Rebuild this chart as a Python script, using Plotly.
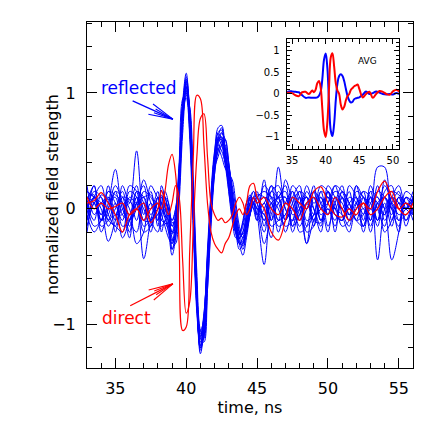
import math
import plotly.graph_objects as go

# time axis (ns)
time_ns = [33.0, 33.5, 34.0, 34.5, 35.0, 35.5, 36.0, 36.5, 37.0, 37.5, 38.0,
           38.25, 38.5, 38.75, 39.0, 39.25, 39.5, 39.75, 40.0, 40.25, 40.5, 40.75,
           41.0, 41.25, 41.5, 41.75, 42.0, 42.25, 42.5, 42.75, 43.0, 43.25, 43.5,
           43.75, 44.0, 44.25, 44.5, 44.75, 45.0,
           45.5, 46.0, 46.5, 47.0, 47.5, 48.0, 48.5, 49.0, 49.5, 50.0, 50.5,
           51.0, 51.5, 52.0, 52.5, 53.0, 53.5, 54.0, 54.5, 55.0, 55.5, 56.0]

# reflected signals (normalized field strength)
reflected = [
    [0.05, -0.1, 0.12, 0.08, 0.1, -0.15, -0.1, 0.1, -0.1, 0.05, -0.05,
     0.05, -0.05, -0.15, -0.22, -0.1, 0.3, 0.92, 1.17, 0.8, -0.05, -0.85, -1.25, -1.05, -0.5, 0.05, 0.48, 0.7, 0.72, 0.5, 0.2, -0.05, -0.22, -0.3, -0.25, -0.1, 0.05, 0.1, 0.05,
     -0.1, 0.15, 0.1, 0.1, -0.15, 0.05, 0.1, -0.1, -0.12, 0.15, -0.05, -0.1, 0.1, 0.05, -0.15, 0.1, 0.0, -0.05, 0.15, 0.12, 0.05, 0.0],
    [-0.1, 0.1, -0.05, 0.15, 0.12, 0.05, -0.2, 0.1, 0.0, -0.15, 0.1,
     -0.1, -0.12, -0.18, -0.3, -0.2, 0.2, 0.8, 1.08, 0.82, 0.05, -0.75, -1.2, -1.1, -0.6, -0.05, 0.38, 0.6, 0.66, 0.52, 0.25, 0.0, -0.18, -0.3, -0.28, -0.12, 0.0, 0.1, 0.12,
     0.1, -0.1, 0.36, 0.0, -0.1, 0.1, -0.2, -0.15, 0.1, -0.05, 0.2, 0.15, 0.0, 0.1, -0.05, 0.15, -0.1, 0.05, -0.15, 0.1, 0.0, 0.05],
    [0.15, 0.1, 0.0, -0.28, -0.1, 0.1, 0.08, -0.1, 0.15, 0.1, 0.0,
     0.12, 0.02, -0.1, -0.35, -0.25, 0.15, 0.75, 1.05, 0.86, 0.15, -0.68, -1.15, -1.1, -0.6, 0.0, 0.42, 0.6, 0.55, 0.38, 0.15, -0.05, -0.2, -0.2, -0.12, 0.05, 0.12, 0.05, -0.05,
     -0.48, 0.0, 0.1, -0.1, 0.15, 0.0, -0.3, 0.1, -0.05, 0.0, -0.1, 0.15, 0.05, -0.1, 0.1, -0.2, 0.05, 0.1, 0.0, -0.1, 0.1, -0.05],
    [-0.05, 0.2, -0.1, 0.05, 0.34, 0.0, -0.1, 0.05, -0.43, -0.1, 0.1,
     -0.05, 0.05, 0.0, -0.15, -0.05, 0.35, 0.9, 1.02, 0.7, -0.1, -0.85, -1.18, -0.95, -0.4, 0.1, 0.45, 0.55, 0.5, 0.4, 0.3, 0.1, -0.1, -0.25, -0.35, -0.2, 0.0, 0.1, 0.0,
     0.05, 0.2, -0.1, -0.05, 0.1, -0.2, -0.15, 0.15, -0.1, 0.1, 0.0, -0.05, -0.15, 0.2, 0.0, 0.1, -0.44, 0.0, 0.1, 0.05, -0.1, 0.1],
    [0.1, 0.12, -0.15, -0.1, 0.05, -0.25, -0.1, 0.05, 0.1, 0.12, -0.1,
     0.15, 0.1, -0.05, -0.2, -0.15, 0.25, 0.85, 1.1, 0.75, -0.05, -0.8, -1.1, -0.9, -0.45, 0.05, 0.35, 0.45, 0.55, 0.6, 0.4, 0.1, -0.15, -0.25, -0.2, -0.05, 0.1, 0.15, 0.05,
     -0.2, 0.05, 0.1, 0.2, -0.05, 0.0, 0.1, -0.15, 0.15, -0.05, 0.1, 0.05, -0.1, 0.0, 0.1, 0.0, 0.36, 0.36, -0.1, 0.05, 0.0, 0.1],
    [-0.15, 0.05, 0.1, -0.1, 0.0, 0.15, -0.1, -0.2, 0.05, 0.0, 0.15,
     -0.15, -0.1, -0.05, -0.1, 0.0, 0.4, 0.95, 1.0, 0.6, -0.2, -0.9, -1.2, -0.95, -0.35, 0.15, 0.5, 0.65, 0.6, 0.42, 0.35, 0.2, 0.0, -0.2, -0.3, -0.15, -0.05, 0.05, 0.1,
     0.15, 0.1, 0.0, -0.15, -0.1, 0.15, 0.1, 0.0, -0.15, 0.2, 0.1, 0.0, 0.15, -0.1, -0.05, 0.15, 0.1, 0.0, -0.44, -0.2, 0.15, 0.1],
    [0.0, 0.15, 0.1, -0.15, -0.05, -0.05, 0.2, 0.15, -0.15, -0.1, -0.05,
     0.05, 0.15, 0.05, -0.25, -0.3, 0.05, 0.65, 0.98, 0.88, 0.25, -0.55, -1.05, -1.12, -0.7, -0.15, 0.3, 0.55, 0.65, 0.6, 0.4, 0.15, -0.1, -0.28, -0.32, -0.2, -0.05, 0.05, 0.0,
     -0.05, -0.25, 0.15, 0.05, 0.0, -0.1, 0.15, 0.05, 0.1, -0.15, 0.05, 0.2, -0.05, 0.05, -0.2, 0.05, 0.1, -0.1, 0.05, 0.15, -0.1, 0.0],
    [0.2, -0.05, 0.05, 0.1, -0.2, 0.05, -0.05, 0.15, 0.1, -0.1, 0.0,
     0.0, -0.08, -0.2, -0.4, -0.25, 0.2, 0.8, 1.12, 0.82, 0.0, -0.8, -1.22, -1.05, -0.5, 0.05, 0.4, 0.58, 0.6, 0.45, 0.2, 0.0, -0.15, -0.22, -0.15, 0.0, 0.1, 0.05, -0.1,
     0.2, 0.1, -0.15, -0.1, 0.2, 0.1, -0.3, -0.1, 0.0, 0.05, 0.15, 0.1, -0.1, -0.05, 0.0, -0.1, 0.15, 0.1, -0.05, 0.1, 0.05, -0.1],
    [-0.05, -0.2, -0.1, 0.0, 0.15, 0.1, 0.0, -0.3, -0.2, 0.2, 0.1,
     0.1, 0.05, 0.0, -0.1, 0.0, 0.35, 0.88, 1.05, 0.7, -0.1, -0.82, -1.15, -1.0, -0.5, 0.0, 0.35, 0.5, 0.55, 0.52, 0.35, 0.12, -0.1, -0.3, -0.4, -0.25, -0.05, 0.1, 0.15,
     -0.15, 0.1, 0.05, -0.2, 0.0, 0.1, 0.0, 0.2, -0.1, 0.0, -0.15, 0.1, -0.05, 0.15, 0.1, -0.05, 0.0, 0.2, 0.05, -0.2, 0.1, 0.05],
    [0.1, 0.05, -0.1, 0.2, -0.05, 0.1, -0.15, 0.05, 0.2, -0.05, 0.05,
     -0.05, -0.15, -0.25, -0.3, -0.1, 0.3, 0.85, 1.06, 0.78, 0.05, -0.72, -1.1, -1.0, -0.55, -0.05, 0.35, 0.62, 0.7, 0.5, 0.15, -0.1, -0.25, -0.22, -0.1, 0.05, 0.1, 0.0, -0.1,
     0.0, 0.15, 0.2, 0.0, -0.1, -0.05, 0.05, -0.1, 0.05, 0.1, -0.05, -0.1, 0.2, 0.1, -0.15, 0.0, -0.1, 0.1, 0.0, 0.1, -0.15, 0.1],
    [-0.1, 0.1, 0.2, -0.05, -0.15, 0.2, 0.05, 0.5, -0.05, 0.15, -0.15,
     0.2, 0.1, 0.0, -0.15, -0.1, 0.25, 0.82, 0.96, 0.65, -0.05, -0.75, -1.08, -0.98, -0.5, 0.0, 0.4, 0.52, 0.45, 0.35, 0.3, 0.25, 0.05, -0.15, -0.25, -0.2, -0.05, 0.05, 0.0,
     -0.3, -0.05, 0.1, 0.15, -0.15, -0.05, 0.2, 0.0, -0.2, 0.15, 0.0, -0.1, 0.05, 0.1, -0.1, 0.2, 0.0, -0.15, 0.1, 0.0, 0.05, 0.0],
    [0.05, -0.15, -0.1, 0.15, 0.05, -0.1, 0.15, 0.1, -0.2, -0.15, 0.05,
     -0.1, 0.0, -0.05, -0.2, -0.2, 0.15, 0.75, 1.02, 0.85, 0.15, -0.65, -1.12, -1.15, -0.7, -0.1, 0.35, 0.58, 0.62, 0.5, 0.3, 0.05, -0.15, -0.3, -0.3, -0.15, 0.0, 0.1, 0.05,
     0.1, 0.05, -0.2, 0.05, 0.15, -0.1, 0.05, 0.15, 0.05, -0.2, 0.1, 0.0, -0.05, 0.0, 0.15, -0.1, 0.2, 0.0, 0.05, -0.05, 0.0, 0.15],
    [0.0, 0.1, -0.2, 0.0, 0.2, 0.05, -0.25, 0.15, 0.05, -0.2, 0.1,
     0.05, -0.05, -0.1, -0.28, -0.15, 0.25, 0.85, 1.1, 0.8, 0.0, -0.8, -1.18, -1.02, -0.45, 0.1, 0.45, 0.62, 0.58, 0.4, 0.2, 0.0, -0.2, -0.35, -0.3, -0.1, 0.05, 0.15, 0.1,
     -0.05, 0.2, 0.1, -0.1, 0.05, 0.15, -0.15, -0.05, 0.2, 0.15, 0.05, -0.15, -0.1, 0.2, 0.1, 0.05, -0.15, 0.15, 0.2, -0.1, -0.05, 0.0],
    [0.15, 0.1, 0.05, -0.1, -0.15, -0.2, 0.1, 0.05, 0.1, -0.1, -0.2,
     0.0, 0.1, 0.05, -0.12, -0.1, 0.3, 0.9, 1.04, 0.72, -0.05, -0.78, -1.12, -0.92, -0.42, 0.08, 0.42, 0.6, 0.62, 0.45, 0.25, 0.05, -0.1, -0.2, -0.22, -0.1, 0.05, 0.0, -0.05,
     0.25, -0.1, 0.05, 0.1, -0.2, 0.0, 0.1, -0.05, 0.0, 0.15, -0.2, 0.1, 0.0, -0.05, 0.05, -0.15, 0.05, -0.05, 0.1, 0.2, 0.0, -0.05],
    [-0.2, 0.05, -0.05, 0.1, -0.1, 0.0, 0.05, 0.2, -0.1, -0.1, 0.05,
     -0.2, -0.1, -0.15, -0.35, -0.2, 0.2, 0.78, 1.0, 0.75, 0.05, -0.7, -1.05, -0.95, -0.5, -0.05, 0.3, 0.5, 0.58, 0.55, 0.38, 0.15, -0.05, -0.2, -0.25, -0.15, -0.05, 0.05, 0.1,
     -0.1, 0.05, -0.1, 0.25, 0.05, -0.15, 0.0, 0.1, -0.1, 0.05, 0.2, -0.05, -0.2, 0.05, 0.15, 0.1, -0.1, 0.25, 0.0, -0.15, 0.1, 0.05],
    [0.05, 0.2, -0.1, -0.05, 0.15, -0.05, -0.1, 0.0, 0.25, 0.05, -0.1,
     0.1, 0.0, -0.12, -0.2, -0.05, 0.3, 0.88, 1.14, 0.85, 0.05, -0.78, -1.2, -1.08, -0.55, 0.0, 0.42, 0.66, 0.68, 0.48, 0.22, 0.0, -0.18, -0.25, -0.2, -0.05, 0.08, 0.05, -0.05,
     0.05, -0.15, -0.1, -0.05, 0.1, 0.2, -0.1, -0.05, 0.15, 0.1, 0.0, 0.15, 0.05, -0.1, -0.15, 0.1, 0.05, -0.2, -0.1, 0.05, 0.0, 0.1],
]

# direct signals
direct = [
    [0.05, 0.07, 0.14, 0.05, -0.05, -0.2, -0.05, 0.0, -0.1, 0.0, 0.05,
     0.0, 0.15, 0.38, 0.47, 0.3, -0.3, -1.05, -1.02, -0.35, 0.45, 0.98, 0.95, 0.55, 0.05, -0.2, -0.3, -0.35, -0.38, -0.3, -0.25, -0.15, -0.05, 0.0, -0.05, 0.05, 0.2, 0.22, 0.1,
     0.0, -0.2, -0.27, -0.1, 0.1, 0.05, 0.0, 0.15, 0.19, 0.05, -0.05, -0.07, 0.0, -0.05, 0.05, 0.0, 0.15, 0.24, 0.1, 0.0, 0.05, 0.0],
    [0.1, 0.0, 0.05, 0.0, 0.02, 0.05, -0.05, 0.0, 0.05, -0.12, 0.0,
     0.16, 0.05, -0.05, 0.05, 0.2, 0.1, -0.45, -0.9, -0.8, -0.15, 0.45, 0.78, 0.82, 0.45, 0.05, -0.05, -0.1, -0.08, -0.12, -0.1, -0.05, 0.05, 0.1, 0.05, -0.05, 0.0, 0.1, 0.05,
     0.1, 0.0, -0.05, 0.05, 0.0, -0.1, 0.05, 0.1, 0.0, -0.05, 0.1, 0.0, -0.1, 0.0, 0.05, -0.05, 0.0, 0.1, 0.15, 0.0, -0.05, 0.05],
]

# averages shown in the inset
avg_reflected = [0.03, 0.03, 0.03, 0.06, 0.06, 0.05, 0.04, -0.03, -0.09, -0.08, -0.09,
                 -0.09, -0.09, -0.08, -0.04, 0.05, 0.35, 0.8, 0.94, 0.6, -0.2, -0.85, -0.98, -0.7, -0.15, 0.25, 0.42, 0.46, 0.42, 0.3, 0.12, -0.05, -0.15, -0.2, -0.18, -0.12, -0.1, -0.09, -0.08,
                 -0.02, 0.06, 0.0, 0.02, 0.06, 0.03, 0.0, -0.01, 0.0, -0.01, 0.02, 0.0, 0.0, 0.0, 0.0, 0.0, 0.0, 0.0, 0.0, 0.0, 0.0, 0.0]
avg_direct = [0.03, 0.03, 0.03, 0.03, 0.02, -0.03, -0.05, 0.04, 0.05, 0.0, 0.08,
              0.04, 0.1, 0.25, 0.3, 0.15, -0.35, -0.85, -1.0, -0.65, 0.15, 0.85, 0.95, 0.65, 0.25, 0.08, 0.0, -0.25, -0.36, -0.3, -0.15, -0.05, 0.0, 0.1, 0.14, 0.18, 0.2, 0.22, 0.12,
              -0.08, 0.0, 0.05, -0.09, 0.0, 0.07, 0.05, 0.0, -0.02, 0.06, 0.1, 0.05, 0.0, 0.0, 0.0, 0.0, 0.0, 0.0, 0.0, 0.0, 0.0, 0.0]

for s in reflected + direct + [avg_reflected, avg_direct]:
    assert len(s) == len(time_ns), len(s)

BLUE = '#0000ff'
RED = '#ff0000'
FONT = 'DejaVu Sans'

X_RANGE = [33, 56]
Y_RANGE = [-1.373, 1.612]

fig = go.Figure()
for tr in reflected:
    fig.add_trace(go.Scatter(x=time_ns, y=tr, mode='lines', hoverinfo='skip', showlegend=False,
                             line=dict(color=BLUE, width=1, shape='spline', smoothing=1)))
for tr in direct:
    fig.add_trace(go.Scatter(x=time_ns, y=tr, mode='lines', hoverinfo='skip', showlegend=False,
                             line=dict(color=RED, width=1.2, shape='spline', smoothing=1)))
fig.add_trace(go.Scatter(x=time_ns, y=avg_reflected, xaxis='x2', yaxis='y2', mode='lines', hoverinfo='skip',
                         showlegend=False, line=dict(color=BLUE, width=2, shape='spline', smoothing=1)))
fig.add_trace(go.Scatter(x=time_ns, y=avg_direct, xaxis='x2', yaxis='y2', mode='lines', hoverinfo='skip',
                         showlegend=False, line=dict(color=RED, width=2, shape='spline', smoothing=1)))

# the page body has an 8 px default margin, so the figure is 428 px and shifted
W, H = 428, 428
ML, MR, MT, MB = 79, 23, 14, 68
SX = (W - ML - MR) / (X_RANGE[1] - X_RANGE[0])
SY = (H - MT - MB) / (Y_RANGE[1] - Y_RANGE[0])


def arrow_shapes(tail, head, color):
    dxp = (head[0] - tail[0]) * SX
    dyp = (head[1] - tail[1]) * SY
    L = math.hypot(dxp, dyp)
    ux, uy = dxp / L, dyp / L
    out = [dict(type='line', xref='x', yref='y', x0=tail[0], y0=tail[1], x1=head[0], y1=head[1],
                line=dict(color=color, width=1.3))]
    for ang, ln in ((13, 25), (-13, 25), (6, 20), (-6, 20)):
        a = math.radians(ang)
        bx = -(ux * math.cos(a) - uy * math.sin(a)) * ln
        by = -(ux * math.sin(a) + uy * math.cos(a)) * ln
        out.append(dict(type='line', xref='x', yref='y', x0=head[0], y0=head[1],
                        x1=head[0] + bx / SX, y1=head[1] + by / SY,
                        line=dict(color=color, width=1.1)))
    return out


shapes = arrow_shapes((36.22, 0.931), (39.06, 0.774), BLUE) + arrow_shapes((36.05, -0.836), (39.06, -0.647), RED)

axis_common = dict(ticks='inside', tickcolor='black', tickwidth=1, showline=True, linecolor='black',
                   linewidth=1, mirror='allticks', showgrid=False, zeroline=False, automargin=False)

fig.update_layout(
    width=W, height=H, margin=dict(l=ML, r=MR, t=MT, b=MB, autoexpand=False),
    paper_bgcolor='white', plot_bgcolor='white', showlegend=False,
    font=dict(family=FONT, size=16, color='black'),
    xaxis=dict(range=X_RANGE, dtick=5, tick0=35, ticklen=10, ticklabelstandoff=6,
               minor=dict(dtick=1, ticklen=5, ticks='inside', tickcolor='black', showgrid=False),
               title=dict(text='time, ns', standoff=4, font=dict(size=16)), **axis_common),
    yaxis=dict(range=Y_RANGE, dtick=1, tick0=0, ticklen=10, ticklabelstandoff=7,
               minor=dict(dtick=0.2, ticklen=5, ticks='inside', tickcolor='black', showgrid=False),
               **axis_common),
    xaxis2=dict(domain=[0.6126, 0.957], anchor='y2', range=[34.2, 50.9], dtick=5, tick0=35, ticklen=5,
                ticklabelstandoff=2, tickfont=dict(size=10),
                minor=dict(dtick=1, ticklen=3, ticks='inside', tickcolor='black', showgrid=False),
                **axis_common),
    yaxis2=dict(domain=[0.633, 0.951], anchor='x2', range=[-1.28, 1.28], dtick=0.5, tick0=0, ticklen=5,
                ticklabelstandoff=4, tickfont=dict(size=10),
                minor=dict(dtick=0.1, ticklen=3, ticks='inside', tickcolor='black', showgrid=False),
                **axis_common),
    shapes=shapes,
    annotations=[
        dict(x=-0.107, y=0.5, xref='paper', yref='paper', text='normalized field strength', showarrow=False,
             textangle=-90, xanchor='center', yanchor='middle', font=dict(size=16, family=FONT)),
        dict(x=36.70, y=1.042, xref='x', yref='y', text='reflected', showarrow=False,
             font=dict(color=BLUE, size=17, family=FONT)),
        dict(x=35.77, y=-0.942, xref='x', yref='y', text='direct', showarrow=False,
             font=dict(color=RED, size=17, family=FONT)),
        dict(x=46.26, y=0.756, xref='x2', yref='y2', text='AVG', showarrow=False,
             font=dict(color='black', size=9, family=FONT)),
    ],
)

fig.write_html('out.html')
